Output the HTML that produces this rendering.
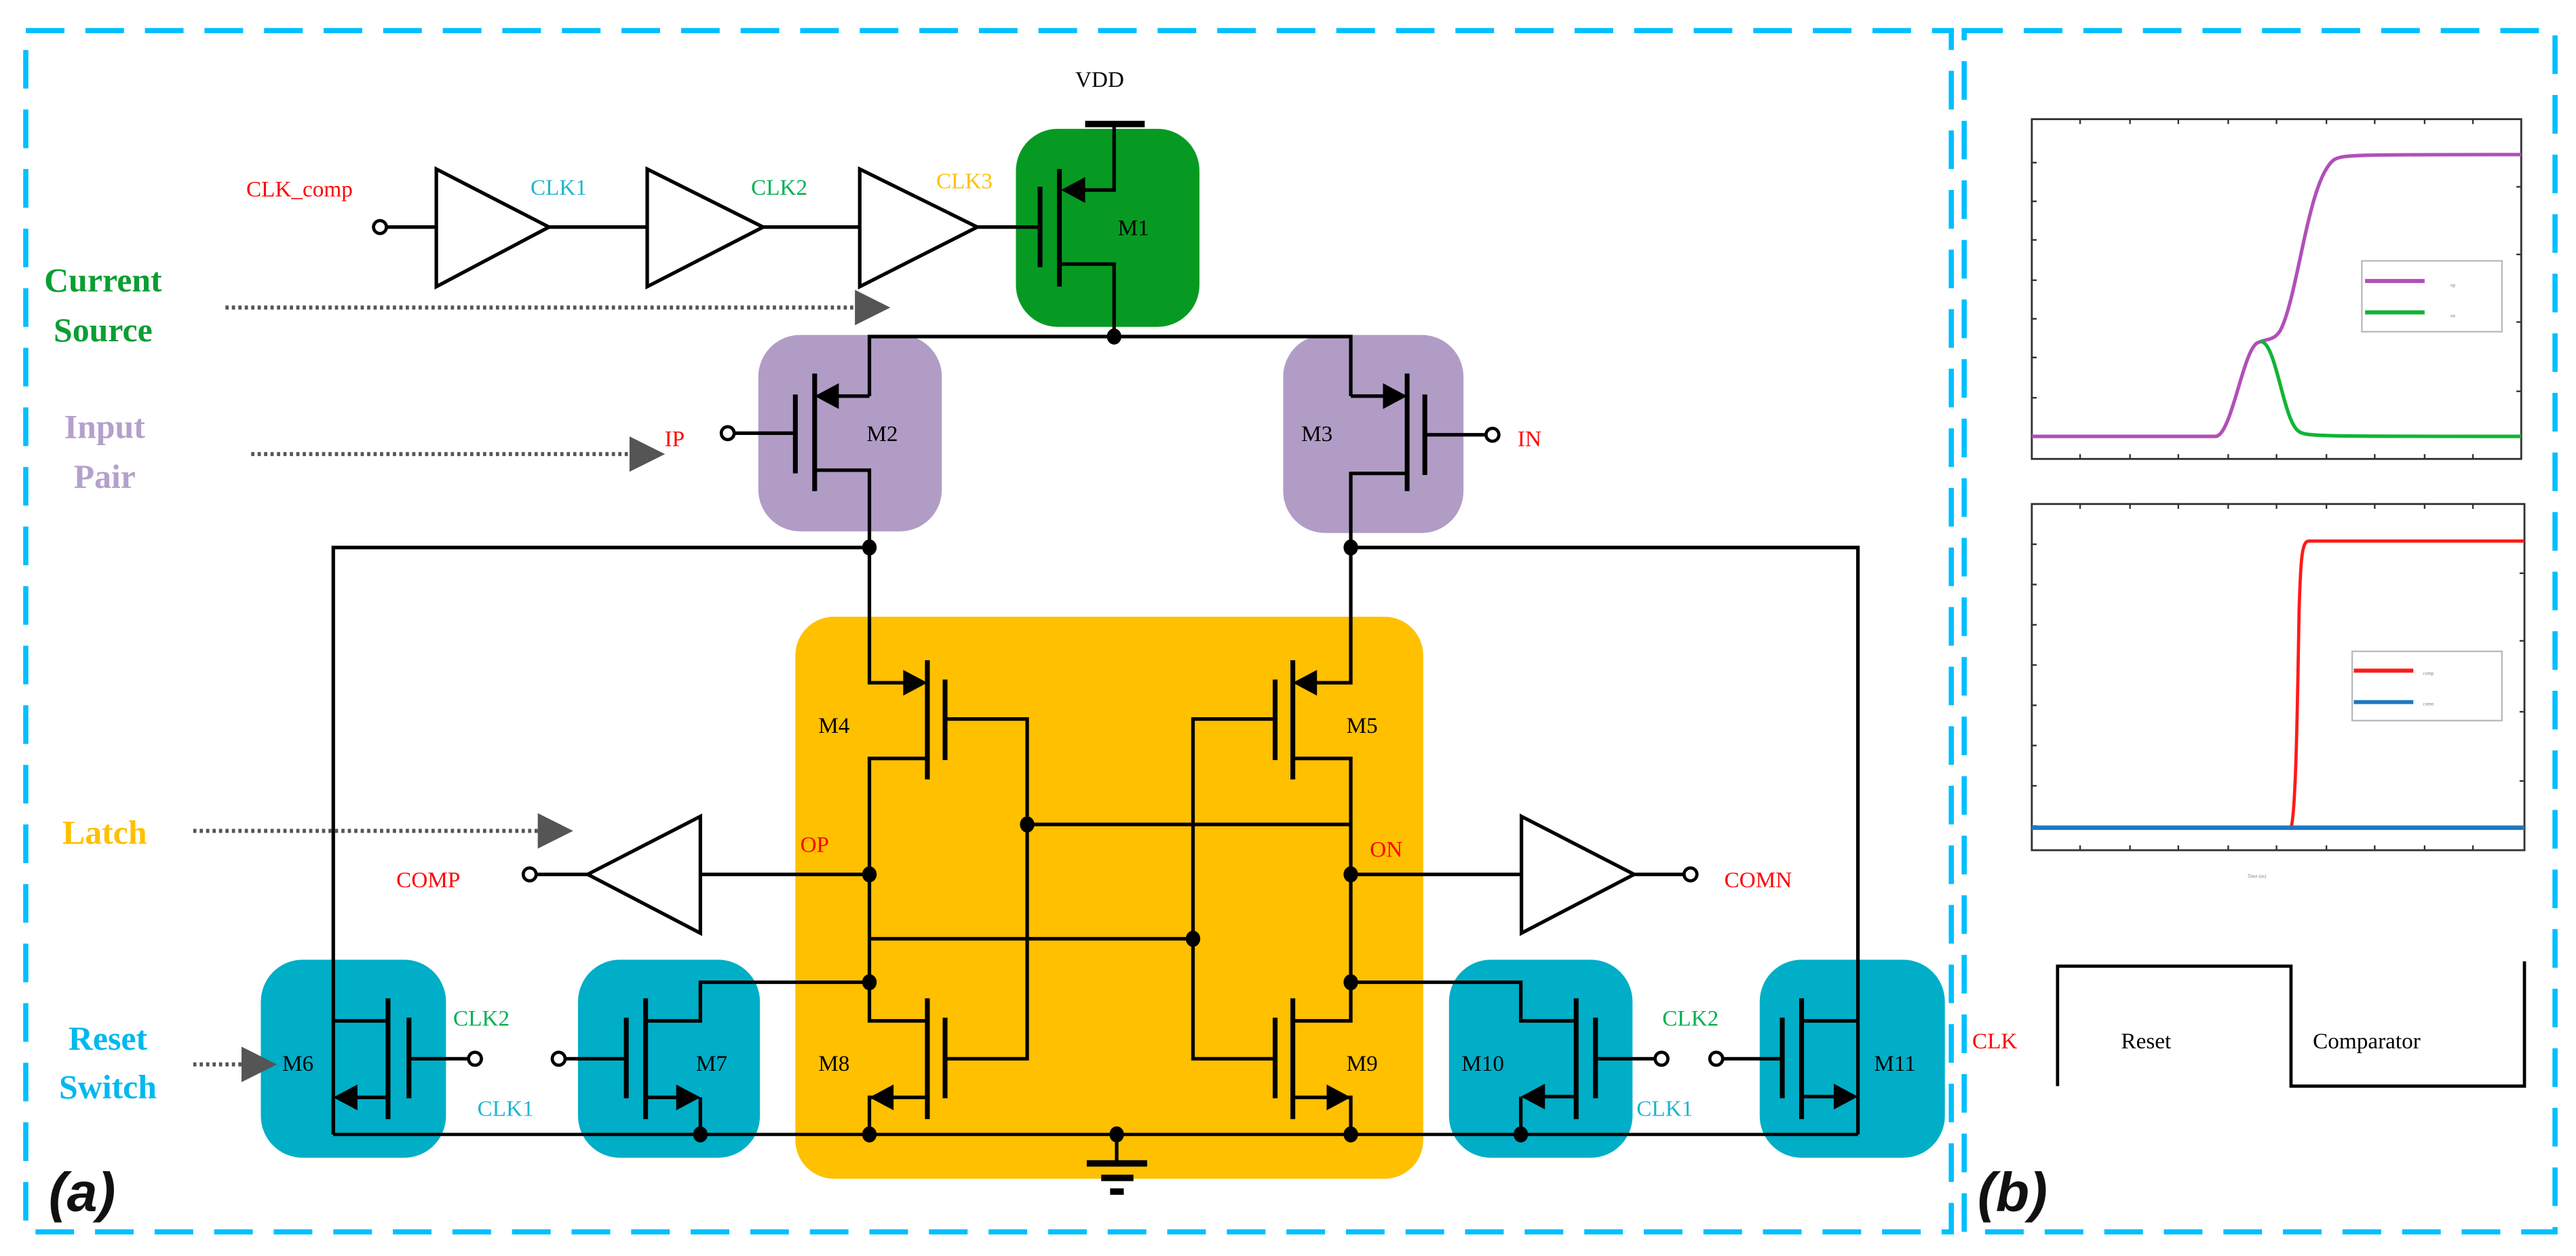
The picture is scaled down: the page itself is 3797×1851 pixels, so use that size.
<!DOCTYPE html>
<html><head><meta charset="utf-8"><style>
html,body{margin:0;padding:0;background:#fff;}
svg{display:block;}
text{font-family:"Liberation Serif",serif;}
</style></head><body>
<svg width="3797" height="1851" viewBox="0 0 1600 780" xmlns="http://www.w3.org/2000/svg">
<rect width="1600" height="780" fill="#fff"/>
<g fill="none" stroke="#00bfff" stroke-width="3.2" stroke-dasharray="24 13">
<rect x="16" y="19" width="1196" height="746"/>
<rect x="1220" y="19" width="367" height="746"/>
</g>
<rect x="631" y="80" width="114" height="123" rx="26" fill="#079a22"/>
<rect x="471" y="208" width="114" height="122" rx="26" fill="#b19cc6"/>
<rect x="797" y="208" width="112" height="123" rx="26" fill="#b19cc6"/>
<rect x="494" y="383" width="390" height="349" rx="24" fill="#ffc000"/>
<rect x="162" y="596" width="115" height="123" rx="26" fill="#00aec7"/>
<rect x="359" y="596" width="113" height="123" rx="26" fill="#00aec7"/>
<rect x="900" y="596" width="114" height="123" rx="26" fill="#00aec7"/>
<rect x="1093" y="596" width="115" height="123" rx="26" fill="#00aec7"/>

<g fill="none" stroke="#000" stroke-width="2.2" stroke-linejoin="miter">
<line x1="240" y1="141" x2="271" y2="141"/>
<polygon points="271,105 341,141 271,178"/>
<line x1="341" y1="141" x2="402" y2="141"/>
<polygon points="402,105 474,141 402,178"/>
<line x1="474" y1="141" x2="534" y2="141"/>
<polygon points="534,105 607,141 534,178"/>
<line x1="607" y1="141" x2="646" y2="141"/>
<line x1="674" y1="77" x2="711" y2="77" stroke-width="4"/>
<polyline points="692,77 692,118 670,118"/>
<polyline points="658,164 692,164 692,209"/>
<polyline points="540,246 540,209 839,209 839,246"/>
<line x1="540" y1="246" x2="516" y2="246"/>
<line x1="839" y1="246" x2="864" y2="246"/>
<line x1="456" y1="269" x2="494" y2="269"/>
<line x1="885" y1="270" x2="923" y2="270"/>
<polyline points="506,292 540,292 540,424 566,424"/>
<polyline points="874,294 839,294 839,424 813,424"/>
<polyline points="207,704.5 207,340 540,340"/>
<polyline points="839,340 1154,340 1154,704.5"/>
<polyline points="576,471 540,471 540,634 576,634"/>
<polyline points="587,446.5 638,446.5 638,657.5 587,657.5"/>
<polyline points="803,471 839,471 839,634 803,634"/>
<polyline points="792,446.5 741,446.5 741,657.5 792,657.5"/>
<line x1="638" y1="512" x2="839" y2="512"/>
<line x1="540" y1="583" x2="741" y2="583"/>
<line x1="540" y1="543" x2="435" y2="543"/>
<polygon points="435,507 365,543 435,579.5"/>
<line x1="365" y1="543" x2="333" y2="543"/>
<line x1="839" y1="543" x2="945" y2="543"/>
<polygon points="945,507 1015,543 945,579.5"/>
<line x1="1015" y1="543" x2="1046" y2="543"/>
<polyline points="576,681.5 540,681.5 540,704.5"/>
<polyline points="803,681.5 839,681.5 839,704.5"/>
<polyline points="540,610 435,610 435,634 401,634"/>
<polyline points="401,681.5 425,681.5"/>
<line x1="435" y1="681.5" x2="435" y2="704.5"/>
<line x1="351" y1="657.5" x2="389" y2="657.5"/>
<polyline points="207,634 241,634"/>
<polyline points="241,681.5 217,681.5"/>
<line x1="207" y1="681.5" x2="207" y2="704.5"/>
<line x1="254" y1="657.5" x2="291" y2="657.5"/>
<polyline points="839,610 944.6,610 944.6,634 979,634"/>
<polyline points="979,681 955,681"/>
<line x1="944.6" y1="681" x2="944.6" y2="704.5"/>
<line x1="991" y1="657.5" x2="1028" y2="657.5"/>
<polyline points="1119,634 1154,634"/>
<polyline points="1119,681 1144,681"/>
<line x1="1070" y1="657.5" x2="1107" y2="657.5"/>
<line x1="207" y1="704.5" x2="1154" y2="704.5" stroke-width="2"/>
<line x1="693.6" y1="704.5" x2="693.6" y2="722.5"/>
</g>
<rect x="675" y="720.5" width="37.5" height="4" fill="#000"/>
<rect x="684" y="729.5" width="20" height="4" fill="#000"/>
<rect x="689.5" y="738" width="8.5" height="4" fill="#000"/>

<g stroke="#000" stroke-width="3" fill="none">
<line x1="658" y1="105" x2="658" y2="178"/><line x1="646" y1="116" x2="646" y2="166"/>
<line x1="506" y1="232" x2="506" y2="305"/><line x1="494" y1="245" x2="494" y2="294"/>
<line x1="874" y1="232" x2="874" y2="305"/><line x1="885" y1="245" x2="885" y2="295"/>
<line x1="576" y1="410" x2="576" y2="484"/><line x1="587" y1="422" x2="587" y2="472"/>
<line x1="803" y1="410" x2="803" y2="484"/><line x1="792" y1="422" x2="792" y2="472"/>
<line x1="576" y1="620" x2="576" y2="695"/><line x1="587" y1="632" x2="587" y2="682"/>
<line x1="803" y1="620" x2="803" y2="695"/><line x1="792" y1="632" x2="792" y2="682"/>
<line x1="241" y1="620" x2="241" y2="695"/><line x1="254" y1="632" x2="254" y2="682"/>
<line x1="401" y1="620" x2="401" y2="695"/><line x1="389" y1="632" x2="389" y2="682"/>
<line x1="979" y1="620" x2="979" y2="695"/><line x1="991" y1="632" x2="991" y2="682"/>
<line x1="1119" y1="620" x2="1119" y2="695"/><line x1="1107" y1="632" x2="1107" y2="682"/>
</g>
<g fill="#000">
<polygon points="659,118 674,110 674,126"/>
<polygon points="506,246 521,238 521,254"/>
<polygon points="874,246 859,238 859,254"/>
<polygon points="576,424 561,416 561,432"/>
<polygon points="803,424 818,416 818,432"/>
<polygon points="540,681.5 555,673.5 555,689.5"/>
<polygon points="839,681.5 824,673.5 824,689.5"/>
<polygon points="207,681.5 222,673.5 222,689.5"/>
<polygon points="435,681.5 420,673.5 420,689.5"/>
<polygon points="944.6,681 959.6,673 959.6,689"/>
<polygon points="1154,681 1139,673 1139,689"/>
</g>
<g fill="#000">
<ellipse cx="692" cy="209" rx="4.5" ry="5"/>
<ellipse cx="540" cy="340" rx="4.5" ry="5"/>
<ellipse cx="839" cy="340" rx="4.5" ry="5"/>
<ellipse cx="638" cy="512" rx="4.5" ry="5"/>
<ellipse cx="540" cy="543" rx="4.5" ry="5"/>
<ellipse cx="839" cy="543" rx="4.5" ry="5"/>
<ellipse cx="741" cy="583" rx="4.5" ry="5"/>
<ellipse cx="540" cy="610" rx="4.5" ry="5"/>
<ellipse cx="839" cy="610" rx="4.5" ry="5"/>
<ellipse cx="435" cy="704.5" rx="4.5" ry="5"/>
<ellipse cx="540" cy="704.5" rx="4.5" ry="5"/>
<ellipse cx="693.6" cy="704.5" rx="4.5" ry="5"/>
<ellipse cx="839" cy="704.5" rx="4.5" ry="5"/>
<ellipse cx="944.6" cy="704.5" rx="4.5" ry="5"/>
</g>
<g fill="#fff" stroke="#000" stroke-width="2">
<circle cx="236" cy="141" r="4"/>
<circle cx="452" cy="269" r="4"/>
<circle cx="927" cy="270" r="4"/>
<circle cx="329" cy="543" r="4"/>
<circle cx="1050" cy="543" r="4"/>
<circle cx="295" cy="657.5" r="4"/>
<circle cx="347" cy="657.5" r="4"/>
<circle cx="1032" cy="657.5" r="4"/>
<circle cx="1066" cy="657.5" r="4"/>
</g>
<g stroke="#555" stroke-width="2.5" stroke-dasharray="2 2" fill="none">
<line x1="140" y1="191" x2="531" y2="191"/>
<line x1="156" y1="282" x2="391" y2="282"/>
<line x1="120" y1="516" x2="334" y2="516"/>
<line x1="120" y1="661" x2="150" y2="661"/>
</g>
<g fill="#555">
<polygon points="531,180 553,191 531,202"/>
<polygon points="391,271 413,282 391,293"/>
<polygon points="334,505 356,516 334,527"/>
<polygon points="150,650 172,661 150,672"/>
</g>

<g font-size="14" text-anchor="middle">
<text x="683" y="54" fill="#000">VDD</text>
<text x="186" y="122" fill="#ff0000">CLK_comp</text>
<text x="347" y="121" fill="#1fb5d0">CLK1</text>
<text x="484" y="121" fill="#00b050">CLK2</text>
<text x="599" y="117" fill="#ffc000">CLK3</text>
<text x="704" y="146" fill="#000">M1</text>
<text x="548" y="274" fill="#000">M2</text>
<text x="818" y="274" fill="#000">M3</text>
<text x="419" y="277" fill="#ff0000">IP</text>
<text x="950" y="277" fill="#ff0000">IN</text>
<text x="518" y="455" fill="#000">M4</text>
<text x="846" y="455" fill="#000">M5</text>
<text x="506" y="529" fill="#ff0000">OP</text>
<text x="861" y="532" fill="#ff0000">ON</text>
<text x="266" y="551" fill="#ff0000">COMP</text>
<text x="1092" y="551" fill="#ff0000">COMN</text>
<text x="518" y="665" fill="#000">M8</text>
<text x="846" y="665" fill="#000">M9</text>
<text x="185" y="665" fill="#000">M6</text>
<text x="442" y="665" fill="#000">M7</text>
<text x="921" y="665" fill="#000">M10</text>
<text x="1177" y="665" fill="#000">M11</text>
<text x="299" y="637" fill="#00b050">CLK2</text>
<text x="314" y="693" fill="#1fb5d0">CLK1</text>
<text x="1050" y="637" fill="#00b050">CLK2</text>
<text x="1034" y="693" fill="#1fb5d0">CLK1</text>
<text x="1239" y="651" fill="#ff0000">CLK</text>
<text x="1333" y="651" fill="#000">Reset</text>
<text x="1470" y="651" fill="#000">Comparator</text>
</g>
<g font-size="21" font-weight="bold" text-anchor="middle">
<text x="64" y="181" fill="#0a9e32">Current</text>
<text x="64" y="212" fill="#0a9e32">Source</text>
<text x="65" y="272" fill="#b4a0cc">Input</text>
<text x="65" y="303" fill="#b4a0cc">Pair</text>
<text x="65" y="524" fill="#ffc000">Latch</text>
<text x="67" y="652" fill="#00b8f0">Reset</text>
<text x="67" y="682" fill="#00b8f0">Switch</text>
</g>
<g font-size="34" font-weight="bold" font-style="italic" fill="#111" text-anchor="middle">
<text x="51" y="752" style="font-family:'Liberation Sans',sans-serif">(a)</text>
<text x="1250" y="752" style="font-family:'Liberation Sans',sans-serif">(b)</text>
</g>

<rect x="1262" y="74" width="304" height="211" fill="none" stroke="#333" stroke-width="1.2"/>
<g stroke="#333" stroke-width="1">
<path d="M1292,74v3M1323,74v3M1353,74v3M1384,74v3M1414,74v3M1445,74v3M1475,74v3M1506,74v3M1536,74v3M1292,285v-3M1323,285v-3M1353,285v-3M1384,285v-3M1414,285v-3M1445,285v-3M1475,285v-3M1506,285v-3M1536,285v-3M1262,101h3M1262,125h3M1262,149h3M1262,174h3M1262,198h3M1262,222h3M1262,247h3M1262,271h3M1566,116h-3M1566,158h-3M1566,200h-3M1566,243h-3"/>
</g>
<path d="M1262,271 L1376,271 C1386,271 1393,218 1402,213 C1408,210 1413,212 1417,204 C1428,180 1434,110 1450,99 C1456,96 1462,96 1566,96" fill="none" stroke="#b050b8" stroke-width="2.2"/>
<path d="M1404,212 C1414,212 1418,262 1428,268 C1432,271 1440,271 1566,271" fill="none" stroke="#10b535" stroke-width="2.2"/>
<rect x="1467" y="162" width="87" height="44" fill="#fff" stroke="#bbb" stroke-width="1"/>
<line x1="1469" y1="174.5" x2="1506" y2="174.5" stroke="#b050b8" stroke-width="2.5"/>
<line x1="1469" y1="194" x2="1506" y2="194" stroke="#10b535" stroke-width="2.5"/>
<g font-size="3" fill="#777" font-family="Liberation Sans,sans-serif"><text x="1522" y="178">op</text><text x="1522" y="197">on</text></g>
<rect x="1262" y="313" width="306" height="215" fill="none" stroke="#333" stroke-width="1.2"/>
<g stroke="#333" stroke-width="1">
<path d="M1292,313v3M1323,313v3M1353,313v3M1384,313v3M1414,313v3M1445,313v3M1475,313v3M1506,313v3M1536,313v3M1292,528v-3M1323,528v-3M1353,528v-3M1384,528v-3M1414,528v-3M1445,528v-3M1475,528v-3M1506,528v-3M1536,528v-3M1262,338h3M1262,363h3M1262,388h3M1262,413h3M1262,438h3M1262,463h3M1262,488h3M1262,513h3M1568,356h-3M1568,398h-3M1568,442h-3M1568,485h-3"/>
</g>
<path d="M1262,514 L1423,514 C1426,505 1427,440 1428,380 C1429,345 1430,336 1434,336 L1568,336" fill="none" stroke="#ff1a1a" stroke-width="2"/>
<line x1="1262" y1="514" x2="1568" y2="514" stroke="#1f78c0" stroke-width="2.8"/>
<rect x="1461" y="404.5" width="93" height="43" fill="#fff" stroke="#bbb" stroke-width="1"/>
<line x1="1462" y1="416.5" x2="1499" y2="416.5" stroke="#ff1a1a" stroke-width="2.5"/>
<line x1="1462" y1="436" x2="1499" y2="436" stroke="#1f78c0" stroke-width="2.5"/>
<g font-size="3" fill="#777" font-family="Liberation Sans,sans-serif"><text x="1505" y="419">comp</text><text x="1505" y="438">comn</text><text x="1396" y="545">Time (ns)</text></g>
<polyline points="1278,674.5 1278,600 1423,600 1423,674.5 1568,674.5 1568,597" fill="none" stroke="#000" stroke-width="2"/>
</svg>
</body></html>
